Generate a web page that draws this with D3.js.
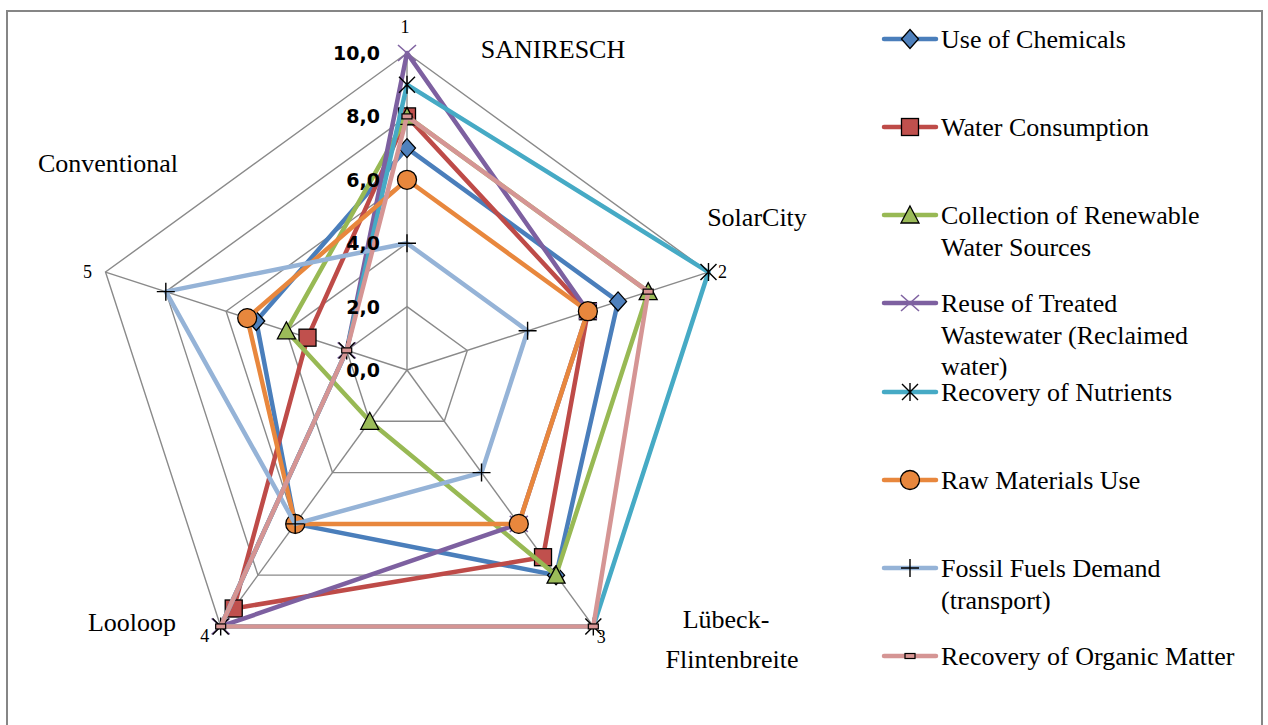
<!DOCTYPE html>
<html>
<head>
<meta charset="utf-8">
<script src="https://cdn.jsdelivr.net/npm/d3@7"></script>
<style>
  html, body { margin: 0; padding: 0; background: #fff; }
  svg { display: block; }
</style>
</head>
<body>
<svg id="chart" width="1268" height="725"></svg>
<script>
// Sanitation concepts compared on eight criteria (score 0–10)
const axisNumbers = ["1", "2", "3", "4", "5"];
const concepts = ["SANIRESCH", "SolarCity", "Lübeck-Flintenbreite", "Looloop", "Conventional"];
const ticks = [0, 2, 4, 6, 8, 10];
const tickLabels = ["0,0", "2,0", "4,0", "6,0", "8,0", "10,0"];

const seriesNames = [
  ["Use of Chemicals"],
  ["Water Consumption"],
  ["Collection of Renewable", "Water Sources"],
  ["Reuse of Treated", "Wastewater (Reclaimed", "water)"],
  ["Recovery of Nutrients"],
  ["Raw Materials Use"],
  ["Fossil Fuels Demand", "(transport)"],
  ["Recovery of Organic Matter"]
];
const useOfChemicals     = [7, 7, 8, 6, 5];
const waterConsumption   = [8, 6, 7.3, 9.3, 3.3];
const renewableWater     = [8, 8, 8, 2, 4];
const reuseWastewater    = [10, 6, 6, 10, 2];
const nutrientRecovery   = [9, 10, 10, 10, 2];
const rawMaterials       = [6, 6, 6, 6, 5.3];
const fossilFuels        = [4, 4, 4, 6, 8];
const organicRecovery    = [8, 8, 10, 10, 2];

const seriesValues = [useOfChemicals, waterConsumption, renewableWater, reuseWastewater,
                      nutrientRecovery, rawMaterials, fossilFuels, organicRecovery];
const lineColors = ["#4A7EBB", "#BE4B48", "#98B954", "#7D60A0", "#46AAC5", "#E8873D", "#95B3D7", "#D59594"];
const fillColors = ["#4F81BD", "#C0504D", "#9BBB59", "#8064A2", "#4BACC6", "#E8873D", "#95B3D7", "#D99694"];
const markerKinds = ["diamond", "square", "triangle", "x", "asterisk", "circle", "plus", "dash"];

const svg = d3.select("#chart");
const cx = 407, cy = 370, R = 317;
const r = d3.scaleLinear().domain([0, 10]).range([0, R]);
const angle = d3.scaleLinear().domain([0, concepts.length]).range([0, 2 * Math.PI]);
const pt = (i, v) => [cx + r(v) * Math.sin(angle(i)), cy - r(v) * Math.cos(angle(i))];
const serif = "'Liberation Serif', 'Times New Roman', serif";

// Outer frame
svg.append("rect").attr("x", 7).attr("y", 11).attr("width", 1255).attr("height", 730)
  .attr("fill", "none").attr("stroke", "#868686").attr("stroke-width", 2);

// Grid rings and spokes
const grid = svg.append("g").attr("stroke", "#8a8a8a").attr("stroke-width", 1.4).attr("fill", "none");
ticks.filter(t => t > 0).forEach(t => {
  grid.append("path").attr("d", d3.line()(d3.range(concepts.length).map(i => pt(i, t))) + "Z");
});
d3.range(concepts.length).forEach(i => {
  grid.append("line").attr("x1", cx).attr("y1", cy)
    .attr("x2", pt(i, 10)[0]).attr("y2", pt(i, 10)[1]);
});

// Axis numbers at the tips
const numOffsets = [[-2, -20], [14, 6], [8, 17], [-16, 16], [-18, 6]];
svg.append("g").selectAll("text").data(axisNumbers).join("text")
  .attr("x", (d, i) => pt(i, 10)[0] + numOffsets[i][0])
  .attr("y", (d, i) => pt(i, 10)[1] + numOffsets[i][1])
  .attr("text-anchor", "middle")
  .attr("font-family", serif)
  .attr("font-size", 18).text(d => d);

// Concept names
const conceptLabels = [
  { lines: ["SANIRESCH"], x: 553, y: 58 },
  { lines: ["SolarCity"], x: 757, y: 226 },
  { lines: ["Lübeck-", "Flintenbreite"], x: 732, y: 628 },
  { lines: ["Looloop"], x: 132, y: 631 },
  { lines: ["Conventional"], x: 108, y: 172 }
];
conceptLabels.forEach((c, k) => {
  const t = svg.append("text").attr("font-family", serif).attr("font-size", 26)
    .attr("text-anchor", "middle").attr("fill", "#000");
  c.lines.forEach((ln, j) => {
    t.append("tspan").attr("x", c.x + (k === 2 && j === 0 ? -6 : 0)).attr("y", c.y + j * 40).text(ln);
  });
});

// Marker drawing
function drawMarker(g, kind, x, y, fill) {
  const m = g.append("g").attr("transform", `translate(${x},${y})`);
  if (kind === "diamond") {
    m.append("path").attr("d", "M0,-9.5L8.5,0L0,9.5L-8.5,0Z")
      .attr("fill", fill).attr("stroke", "#000").attr("stroke-width", 1.3);
  } else if (kind === "square") {
    m.append("rect").attr("x", -8.5).attr("y", -8.5).attr("width", 17).attr("height", 17)
      .attr("fill", fill).attr("stroke", "#000").attr("stroke-width", 1.3);
  } else if (kind === "triangle") {
    m.append("path").attr("d", "M0,-9L9,8L-9,8Z")
      .attr("fill", fill).attr("stroke", "#000").attr("stroke-width", 1.3);
  } else if (kind === "circle") {
    m.append("circle").attr("r", 9.5)
      .attr("fill", fill).attr("stroke", "#000").attr("stroke-width", 1.3);
  } else if (kind === "x") {
    m.append("path").attr("d", "M-9,-8L9,8M-9,8L9,-8")
      .attr("stroke", fill).attr("stroke-width", 1.6).attr("fill", "none");
  } else if (kind === "asterisk") {
    m.append("path").attr("d", "M-8,-8L8,8M-8,8L8,-8M0,-9L0,9")
      .attr("stroke", "#000").attr("stroke-width", 1.4).attr("fill", "none");
  } else if (kind === "plus") {
    m.append("path").attr("d", "M-9,0L9,0M0,-9L0,9")
      .attr("stroke", "#000").attr("stroke-width", 1.4).attr("fill", "none");
  } else if (kind === "dash") {
    m.append("rect").attr("x", -5).attr("y", -2.5).attr("width", 10).attr("height", 5)
      .attr("fill", fill).attr("stroke", "#000").attr("stroke-width", 1.2);
  }
}

// Series: each drawn as a closed polygon with its markers
const radar = d3.line().curve(d3.curveLinearClosed);
seriesValues.forEach((vals, s) => {
  const g = svg.append("g");
  const pts = vals.map((v, i) => pt(i, v));
  g.append("path").attr("d", radar(pts))
    .attr("fill", "none").attr("stroke", lineColors[s]).attr("stroke-width", 4.5)
    .attr("stroke-linejoin", "round");
  pts.forEach(p => drawMarker(g, markerKinds[s], p[0], p[1], fillColors[s]));
});

// Radial tick labels, drawn above the series
svg.append("g").selectAll("text").data(ticks).join("text")
  .attr("x", cx - 27).attr("y", t => cy - r(t) + 7)
  .attr("text-anchor", "end")
  .attr("font-family", "'DejaVu Sans', sans-serif").attr("font-weight", "bold")
  .attr("font-size", 19).attr("fill", "#000")
  .text((t, i) => tickLabels[i]);

// Legend
const legendY = [39, 127, 215, 303, 392, 480, 568, 656];
const legend = svg.append("g");
seriesNames.forEach((lines, s) => {
  const y = legendY[s];
  const g = legend.append("g");
  g.append("line").attr("x1", 884).attr("x2", 936).attr("y1", y).attr("y2", y)
    .attr("stroke", lineColors[s]).attr("stroke-width", 4.5).attr("stroke-linecap", "round");
  drawMarker(g, markerKinds[s], 910, y, fillColors[s]);
  const t = g.append("text").attr("font-family", serif).attr("font-size", 26).attr("fill", "#000");
  lines.forEach((ln, j) => {
    t.append("tspan").attr("x", 941).attr("y", y + 9 + j * 31.5).text(ln);
  });
});
</script>
</body>
</html>
